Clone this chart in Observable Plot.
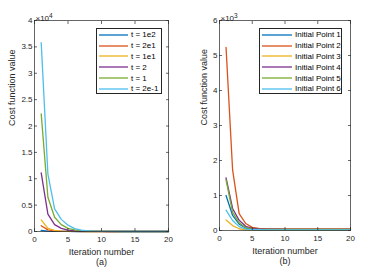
<!DOCTYPE html>
<html><head><meta charset="utf-8">
<script src="https://cdn.jsdelivr.net/npm/d3@7"></script>
<script src="https://cdn.jsdelivr.net/npm/@observablehq/plot@0.6"></script>
<style>
body{margin:0;background:#fff;font-family:"Liberation Sans",Arial,sans-serif}
#wrap{position:relative;width:374px;height:272px;display:flex}
.legend{position:absolute;box-sizing:border-box;border:1px solid #262626;background:#fff;font-size:8px;color:#000;padding-top:0.5px}
.legend .row{display:flex;align-items:center;height:10.8px;white-space:nowrap}
.legend svg{display:block;margin-right:3px;overflow:visible}
</style></head>
<body><div id="wrap"></div>
<script>
const iterations = [1,2,3,4,5,6,7,8,9,10,11,12,13,14,15,16,17,18,19,20];
const xTicks = [0,5,10,15,20];
const colors = ["#0072BD","#D95319","#EDB120","#7E2F8E","#77AC30","#4DBEEE"];

// Panel (a)
const namesA = ["t = 1e2","t = 2e1","t = 1e1","t = 2","t = 1","t = 2e-1"];
const a_t1e2  = [200,90,40,15,6,3,1,0,0,0,0,0,0,0,0,0,0,0,0,0];
const a_t2e1  = [1100,300,100,35,12,5,2,1,0,0,0,0,0,0,0,0,0,0,0,0];
const a_t1e1  = [2200,600,220,80,30,12,5,2,1,0,0,0,0,0,0,0,0,0,0,0];
const a_t2    = [11100,3300,1300,600,250,110,50,20,10,5,2,1,0,0,0,0,0,0,0,0];
const a_t1    = [22300,6500,2700,1300,600,300,150,70,35,15,8,4,2,1,0,0,0,0,0,0];
const a_t2em1 = [35800,10900,4300,2300,1200,550,260,120,60,30,15,8,4,2,1,1,0,0,0,0];
const seriesA = [a_t1e2,a_t2e1,a_t1e1,a_t2,a_t1,a_t2em1];
const yTicksA = [0,5000,10000,15000,20000,25000,30000,35000,40000];

// Panel (b)
const namesB = ["Initial Point 1","Initial Point 2","Initial Point 3","Initial Point 4","Initial Point 5","Initial Point 6"];
const b_ip1 = [1000,430,180,70,35,28,25,25,25,25,25,25,25,25,25,25,25,25,25,25];
const b_ip2 = [5230,1730,480,200,90,60,50,47,45,45,45,45,45,45,45,45,45,45,45,45];
const b_ip3 = [300,140,50,20,15,15,15,15,15,15,15,15,15,15,15,15,15,15,15,15];
const b_ip4 = [1500,630,290,120,60,45,40,38,36,35,35,35,35,35,35,35,35,35,35,35];
const b_ip5 = [1450,520,220,80,40,32,30,30,30,30,30,30,30,30,30,30,30,30,30,30];
const b_ip6 = [580,285,110,40,25,21,20,20,20,20,20,20,20,20,20,20,20,20,20,20];
const seriesB = [b_ip1,b_ip2,b_ip3,b_ip4,b_ip5,b_ip6];
const yTicksB = [0,1000,2000,3000,4000,5000,6000];

const ink = "#262626";

function panel({names, series, yTicks, div, exp, sub, ml, mr, mb, ylabDx}) {
  const data = [];
  names.forEach((n,i) => series[i].forEach((v,j) => data.push({x: iterations[j], y: v, s: n})));
  const yMax = yTicks[yTicks.length-1];
  const svg = Plot.plot({
    width: 187, height: 272,
    marginLeft: ml, marginRight: mr, marginTop: 20, marginBottom: mb,
    style: {fontFamily: "Liberation Sans, Arial, sans-serif", fontSize: "8px", color: ink, background: "white", overflow: "visible"},
    x: {domain: [0,20]},
    y: {domain: [0,yMax]},
    color: {domain: names, range: colors},
    marks: [
      Plot.line(data, {x: "x", y: "y", z: "s", stroke: "s", strokeWidth: 1.3}),
      Plot.frame({stroke: ink, strokeWidth: 0.7}),
      Plot.axisX({ticks: xTicks, tickSize: -3, tickPadding: 8, stroke: ink, strokeWidth: 0.7, label: null}),
      Plot.axisX({anchor: "top", ticks: xTicks, tickSize: -3, tickFormat: () => "", stroke: ink, strokeWidth: 0.7, label: null}),
      Plot.axisY({ticks: yTicks, tickSize: -3, tickPadding: 5, tickFormat: d => d/div, stroke: ink, strokeWidth: 0.7, label: null}),
      Plot.axisY({anchor: "right", ticks: yTicks, tickSize: -3, tickFormat: () => "", stroke: ink, strokeWidth: 0.7, label: null}),
      Plot.text([exp], {frameAnchor: "top-left", textAnchor: "start", dx: 1, dy: -5, fontSize: 8, fill: ink, className: "expo"}),
      Plot.text(["Iteration number"], {frameAnchor: "bottom", dy: 23, fontSize: 9, fill: ink}),
      Plot.text([sub], {frameAnchor: "bottom", dy: 33, fontSize: 9, fill: ink}),
      Plot.text(["Cost function value"], {frameAnchor: "left", rotate: -90, dx: ylabDx, fontSize: 9, fill: ink})
    ]
  });
  d3.select(svg).selectAll(".expo text").each(function(d) {
    const t = d3.select(this);
    const e = exp;
    t.text(null);
    t.append("tspan").text("×10");
    t.append("tspan").attr("dy", "-3.5").attr("font-size", "6.5").text(e === "4" ? "4" : e);
  });
  return svg;
}

const wrap = document.getElementById("wrap");
wrap.append(panel({names: namesA, series: seriesA, yTicks: yTicksA, div: 1e4, exp: "4", sub: "(a)", ml: 34, mr: 19, mb: 41, ylabDx: -22}));
wrap.append(panel({names: namesB, series: seriesB, yTicks: yTicksB, div: 1e3, exp: "3", sub: "(b)", ml: 32, mr: 24, mb: 42, ylabDx: -15}));

function legend(names, left, width, swLeft, swWidth) {
  const box = document.createElement("div");
  box.className = "legend";
  Object.assign(box.style, {left: left + "px", top: "28px", width: width + "px", height: "66px"});
  names.forEach((n,i) => {
    const row = document.createElement("div");
    row.className = "row";
    row.style.paddingLeft = swLeft + "px";
    const sw = d3.create("svg").attr("width", swWidth).attr("height", 4);
    sw.append("line").attr("x1", 0).attr("x2", swWidth).attr("y1", 2).attr("y2", 2)
      .attr("stroke", colors[i]).attr("stroke-width", 1.3);
    const t = document.createElement("span");
    t.textContent = n;
    row.append(sw.node(), t);
    box.append(row);
  });
  wrap.append(box);
}
legend(namesA, 96, 66, 2, 29);
legend(namesB, 259, 83, 2, 30);
</script>
</body></html>
